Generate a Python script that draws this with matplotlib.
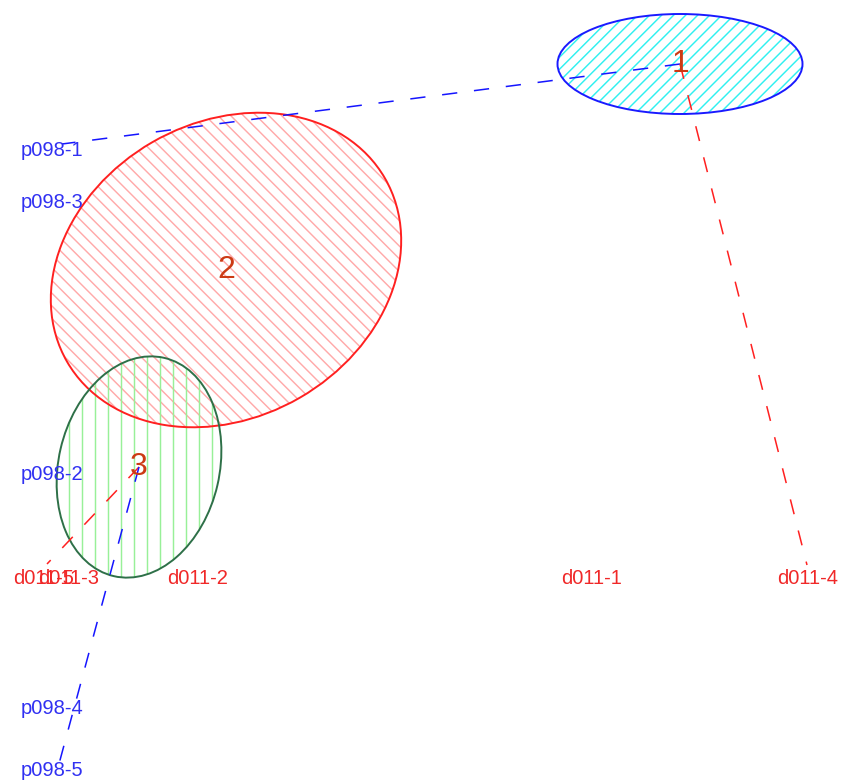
import numpy as np
import matplotlib
matplotlib.use("Agg")
import matplotlib.pyplot as plt
from matplotlib.patches import Ellipse
from matplotlib.collections import LineCollection

plt.rcParams['font.family'] = ['Liberation Sans', 'DejaVu Sans']

# ---- data (screen-like coordinates, y grows downward) ----
point_labels = ['d011-1', 'd011-2', 'd011-3', 'd011-4', 'd011-5',
                'p098-1', 'p098-2', 'p098-3', 'p098-4', 'p098-5']
point_x = [592, 198, 69, 808, 44, 52, 52, 52, 52, 52]
point_y = [579, 579, 579, 579, 579, 150, 475, 202, 709, 770]
point_group = ['d', 'd', 'd', 'd', 'd', 'p', 'p', 'p', 'p', 'p']

cluster_ids = ['1', '2', '3']
cluster_x = [680, 226, 139]
cluster_y = [64, 270, 467]
ellipse_width = [245, 367, 224]
ellipse_height = [100, 295, 161]
ellipse_angle = [0, -30, -77]

spider_cluster = [0, 0, 2, 2]
spider_end_x = [62, 807, 47, 56]
spider_end_y = [144, 565, 564, 775]
spider_group = ['p', 'd', 'd', 'p']

# ---- styles ----
group_color = {'d': '#f02828', 'p': '#3030f2'}
line_color = {'d': '#ff2020', 'p': '#1515ff'}
edge_colors = ['#1a1aff', '#ff2020', '#2e7048']
hatch_colors = ['#30f0f0', '#ffaaaa', '#98f098']
hatch_angles = [45, 135, 90]
hatch_spacing = [8.5, 9.0, 13.0]

fig = plt.figure(figsize=(8.43, 7.81), dpi=100)
ax = fig.add_axes([0, 0, 1, 1])
ax.set_xlim(0, 843)
ax.set_ylim(781, 0)
ax.axis('off')

for i in range(len(cluster_ids)):
    cx, cy = cluster_x[i], cluster_y[i]
    ell = Ellipse((cx, cy), ellipse_width[i], ellipse_height[i],
                  angle=ellipse_angle[i], fill=False,
                  ec=edge_colors[i], lw=1.4, zorder=3)
    ax.add_patch(ell)
    # manual hatching clipped to the ellipse
    a = np.deg2rad(hatch_angles[i])
    d = np.array([np.cos(a), -np.sin(a)])
    n = np.array([np.sin(a), np.cos(a)])
    R = max(ellipse_width[i], ellipse_height[i]) / 2 + 10
    segs = []
    for t in np.arange(-R, R, hatch_spacing[i]):
        p0 = np.array([cx, cy]) + t * n - R * d
        p1 = np.array([cx, cy]) + t * n + R * d
        segs.append([p0, p1])
    lc = LineCollection(segs, colors=hatch_colors[i], linewidths=1.05, zorder=2)
    ax.add_collection(lc)
    lc.set_clip_path(ell)

for k in range(len(spider_cluster)):
    c = spider_cluster[k]
    ax.plot([cluster_x[c], spider_end_x[k]], [cluster_y[c], spider_end_y[k]],
            color=line_color[spider_group[k]], lw=1.1,
            dashes=(10, 11), zorder=4)

for lab, x, y, g in zip(point_labels, point_x, point_y, point_group):
    ax.text(x, y, lab, ha='center', va='center', fontsize=14.5,
            color=group_color[g], zorder=5)

for cid, x, y in zip(cluster_ids, cluster_x, cluster_y):
    ax.text(x, y, cid, ha='center', va='center', fontsize=23,
            color='#cc3a14', zorder=6)

fig.savefig('out.png', dpi=100)
